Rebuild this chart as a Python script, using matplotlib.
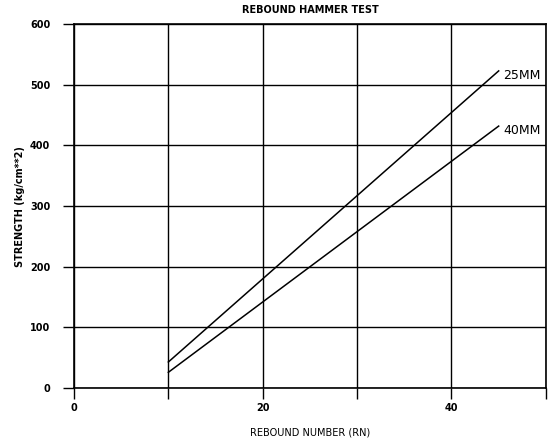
import numpy as np
import matplotlib
matplotlib.use('Agg')
import matplotlib.pyplot as plt

# rebound number vs strength
rn = [10, 45]
strength_25mm = [43, 523]
strength_40mm = [26, 432]
labels = ['25MM', '40MM']

fig = plt.figure(figsize=(5.5, 4.4), dpi=100)
ax = fig.add_axes([0.1345, 0.118, 0.858, 0.827])

ax.plot(rn, strength_25mm, color='black', lw=1.1)
ax.plot(rn, strength_40mm, color='black', lw=1.1)
ax.text(rn[-1] + 0.5, strength_25mm[-1] - 7, labels[0], fontsize=9, va='center', ha='left')
ax.text(rn[-1] + 0.5, strength_40mm[-1] - 7, labels[1], fontsize=9, va='center', ha='left')

ax.set_xlim(0, 50)
ax.set_ylim(0, 600)
ax.set_xticks([0, 20, 40])
ax.set_xticks(np.arange(0, 51, 10), minor=True)
ax.set_yticks(np.arange(0, 601, 100))
ax.grid(True, which='both', color='black', lw=1.0)
ax.set_axisbelow(True)
ax.tick_params(which='both', direction='out', length=8, width=1, labelsize=7)
ax.tick_params(axis='y', pad=9)
ax.tick_params(axis='x', pad=3)
for lab in ax.get_xticklabels() + ax.get_yticklabels():
    lab.set_fontweight('bold')
for s in ax.spines.values():
    s.set_linewidth(1.2)

ax.set_title('REBOUND HAMMER TEST', fontsize=7, fontweight='bold', pad=8)
ax.set_xlabel('REBOUND NUMBER (RN)', fontsize=7, va='center')
ax.set_ylabel('STRENGTH (kg/cm**2)', fontsize=7, fontweight='bold', va='center')
ax.xaxis.set_label_coords(0.5, -0.121)
ax.yaxis.set_label_coords(-0.114, 0.5)

fig.savefig('out.png', dpi=100)
